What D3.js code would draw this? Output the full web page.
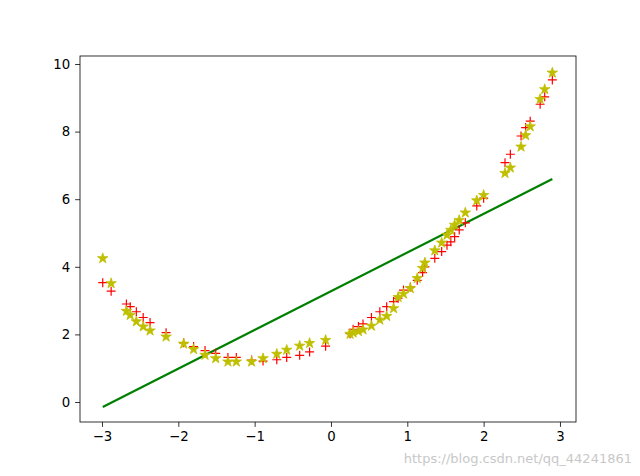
<!DOCTYPE html>
<html><head><meta charset="utf-8">
<script src="https://d3js.org/d3.v7.min.js"></script>
<style>body{margin:0;background:#fff}svg{display:block}</style>
</head><body><svg id="c" width="640" height="476"></svg>
<script>
const xs = [-2.99,-2.88,-2.68,-2.63,-2.55,-2.46,-2.37,-2.16,-1.93,-1.80,-1.65,-1.51,-1.35,-1.24,-1.04,-0.89,-0.71,-0.58,-0.41,-0.28,-0.07,0.25,0.29,0.36,0.42,0.53,0.64,0.73,0.82,0.88,0.95,1.04,1.13,1.20,1.23,1.36,1.45,1.52,1.57,1.62,1.68,1.76,1.91,2.00,2.28,2.35,2.49,2.55,2.61,2.74,2.80,2.90];
const redY = [3.53,3.28,2.90,2.82,2.67,2.50,2.35,2.05,1.75,1.64,1.52,1.44,1.32,1.32,1.24,1.21,1.25,1.32,1.38,1.48,1.65,2.02,2.15,2.23,2.31,2.50,2.67,2.82,2.97,3.07,3.31,3.40,3.60,3.83,4.00,4.25,4.45,4.64,4.74,4.89,5.09,5.30,5.80,6.03,7.08,7.33,7.87,8.12,8.31,8.81,9.03,9.53];
const yelY = [4.25,3.51,2.69,2.57,2.38,2.23,2.11,1.93,1.72,1.56,1.39,1.29,1.19,1.19,1.19,1.29,1.42,1.54,1.66,1.74,1.83,2.01,2.05,2.09,2.14,2.25,2.43,2.54,2.77,3.10,3.20,3.36,3.66,3.96,4.12,4.48,4.71,4.94,5.09,5.24,5.38,5.60,5.96,6.12,6.77,6.93,7.55,7.89,8.15,8.96,9.25,9.74];
const lineX = [-2.99, 2.90];
const lineY = [-0.15, 6.60];
const xTicks = [-3,-2,-1,0,1,2,3];
const yTicks = [0,2,4,6,8,10];

const svg = d3.select("#c");
const L=80,R=576,T=56,B=422;
const x = d3.scaleLinear().domain([-3.288,3.21]).range([L,R]);
const y = d3.scaleLinear().domain([-0.592,10.237]).range([B,T]);
const font = "DejaVu Sans, sans-serif";

svg.append("path").datum(lineX.map((v,i)=>[v,lineY[i]]))
  .attr("d", d3.line().x(d=>x(d[0])).y(d=>y(d[1])))
  .attr("stroke","#008000").attr("stroke-width",2.2).attr("fill","none");

xs.forEach((v,i)=>{
  const px=x(v), py=y(redY[i]);
  svg.append("path").attr("d",`M${px-4.5},${py}H${px+4.5}M${px},${py-4.5}V${py+4.5}`)
    .attr("stroke","#ff0000").attr("stroke-width",1.2);
});
const star = d3.symbol().type(d3.symbolStar).size(34);
xs.forEach((v,i)=>{
  svg.append("path").attr("d",star()).attr("transform",`translate(${x(v)},${y(yelY[i])})`)
    .attr("fill","#bfbf00").attr("stroke","#bfbf00").attr("stroke-width",0.8);
});

svg.append("rect").attr("x",L).attr("y",T).attr("width",R-L).attr("height",B-T)
  .attr("fill","none").attr("stroke","#000").attr("stroke-width",0.8);

const xa = svg.append("g").attr("transform",`translate(0,${B})`)
  .call(d3.axisBottom(x).tickValues(xTicks).tickSize(4.9).tickPadding(4.9).tickFormat(d3.format("d")));
const ya = svg.append("g").attr("transform",`translate(${L},0)`)
  .call(d3.axisLeft(y).tickValues(yTicks).tickSize(4.9).tickPadding(4.9).tickFormat(d3.format("d")));
[xa,ya].forEach(a=>{a.select(".domain").remove();
  a.selectAll("text").attr("font-family",font).attr("font-size",13.3).attr("fill","#000");
  a.selectAll("line").attr("stroke","#000").attr("stroke-width",0.8);});
xa.selectAll("text").text(d=>d<0?"\u2212"+Math.abs(d):d);

svg.append("text").attr("x",632).attr("y",463).attr("text-anchor","end")
  .attr("font-family",font).attr("font-size",13).attr("fill","#c8c8c8")
  .text("https://blog.csdn.net/qq_44241861");
</script></body></html>
